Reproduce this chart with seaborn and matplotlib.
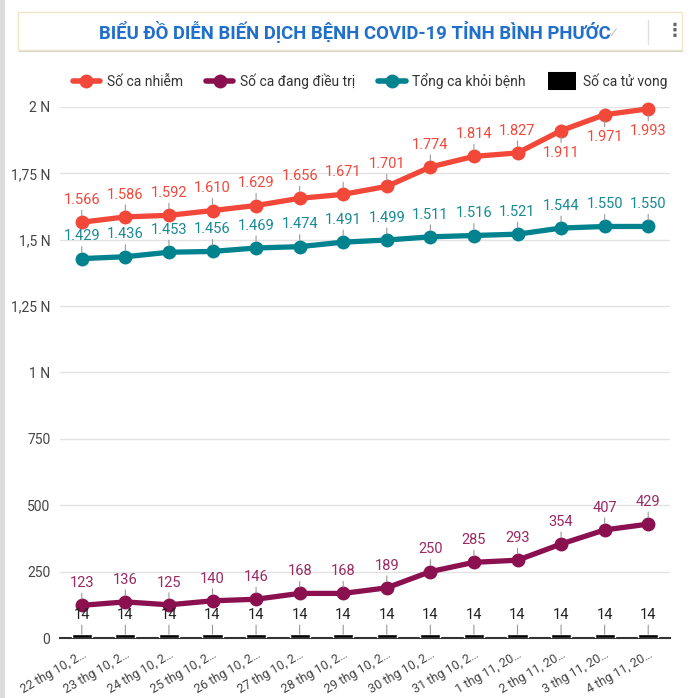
import numpy as np
import pandas as pd
import matplotlib
matplotlib.use("Agg")
import matplotlib.pyplot as plt
import seaborn as sns
from matplotlib.lines import Line2D
from matplotlib.patches import Rectangle

# ---------------- data ----------------
dates = ["22 thg 10, 2…", "23 thg 10, 2…", "24 thg 10, 2…", "25 thg 10, 2…",
         "26 thg 10, 2…", "27 thg 10, 2…", "28 thg 10, 2…", "29 thg 10, 2…",
         "30 thg 10, 2…", "31 thg 10, 2…", "1 thg 11, 20…", "2 thg 11, 20…",
         "3 thg 11, 20…", "4 thg 11, 20…"]
so_ca_nhiem = [1566, 1586, 1592, 1610, 1629, 1656, 1671, 1701, 1774, 1814, 1827, 1911, 1971, 1993]
dang_dieu_tri = [123, 136, 125, 140, 146, 168, 168, 189, 250, 285, 293, 354, 407, 429]
khoi_benh = [1429, 1436, 1453, 1456, 1469, 1474, 1491, 1499, 1511, 1516, 1521, 1544, 1550, 1550]
tu_vong = [14, 14, 14, 14, 14, 14, 14, 14, 14, 14, 14, 14, 14, 14]
series_names = ["Số ca nhiễm", "Số ca đang điều trị", "Tổng ca khỏi bệnh", "Số ca tử vong"]
y_ticks = [0, 250, 500, 750, 1000, 1250, 1500, 1750, 2000]
y_tick_labels = ["0", "250", "500", "750", "1 N", "1,25 N", "1,5 N", "1,75 N", "2 N"]
title = "BIỂU ĐỒ DIỄN BIẾN DỊCH BỆNH COVID-19 TỈNH BÌNH PHƯỚC"

RED = "#F1483A"
PURPLE = "#8A1050"
TEAL = "#00838F"
BLACK = "#000000"

sns.set_theme(style="white")
plt.rcParams["font.family"] = ["Roboto", "DejaVu Sans"]

W, H = 700, 698
fig = plt.figure(figsize=(W / 100, H / 100), dpi=100)
fig.patch.set_facecolor("white")

# left gray border strip
fig.patches.append(Rectangle((0, 0), 5 / W, 1, transform=fig.transFigure,
                             facecolor="#dcdcdc", edgecolor="none", zorder=0))
# title card with shadow
fig.patches.append(Rectangle((19 / W, 1 - 52 / H), 664 / W, 38 / H, transform=fig.transFigure,
                             facecolor="#d0d0d0", edgecolor="none", zorder=1))
fig.patches.append(Rectangle((18 / W, 1 - 50 / H), 664 / W, 38 / H, transform=fig.transFigure,
                             facecolor="white", edgecolor="#efe6c9", lw=1, zorder=2))
fig.text(355 / W, 1 - 32 / H, title, ha="center", va="center", fontsize=13.3,
         fontweight="bold", color="#1F6FCB", zorder=3)
fig.text(614 / W, 1 - 33 / H, "✓", ha="center", va="center", fontsize=10,
         color="#c8c8c8", family=["DejaVu Sans"], zorder=3)
fig.lines.append(Line2D([648 / W, 648 / W], [1 - 20 / H, 1 - 44 / H], transform=fig.transFigure,
                        color="#e0e0e0", lw=1, zorder=3))
fig.text(675 / W, 1 - 31 / H, "⋮", ha="center", va="center", fontsize=13,
         color="#666666", fontweight="bold", family=["DejaVu Sans"], zorder=3)

ax = fig.add_axes([60 / W, 1 - 638 / H, 610 / W, (638 - 107) / H])
ax.set_facecolor("white")

idx = np.arange(len(dates))
df = pd.DataFrame({"idx": idx, "nhiem": so_ca_nhiem, "dieu_tri": dang_dieu_tri,
                   "khoi": khoi_benh, "tu_vong": tu_vong})

sns.barplot(data=df, x="idx", y="tu_vong", native_scale=True, color=BLACK,
            saturation=1, width=0.46, ax=ax, zorder=3)

for col, c in [("khoi", TEAL), ("dieu_tri", PURPLE), ("nhiem", RED)]:
    sns.lineplot(data=df, x="idx", y=col, color=c, lw=3.8, marker="o", markersize=10,
                 markeredgewidth=0, ax=ax, clip_on=False, zorder=4)

def fmt(v):
    return f"{v:,}".replace(",", ".")

def label(x, y, text, color, dy, shrink):
    ax.annotate(text, xy=(x, y), xytext=(0, dy), textcoords="offset points",
                ha="center", va="bottom" if dy > 0 else "top", fontsize=10.5,
                color=color, zorder=5,
                arrowprops=dict(arrowstyle="-", color="#999999", lw=0.8,
                                shrinkA=0, shrinkB=shrink))

for i in idx:
    label(i, so_ca_nhiem[i], fmt(so_ca_nhiem[i]), RED, -11 if i >= 11 else 11, 4.5)
    label(i, khoi_benh[i], fmt(khoi_benh[i]), "#178A94", 11, 4.5)
    label(i, dang_dieu_tri[i], fmt(dang_dieu_tri[i]), "#9A2A62", 11, 4.5)
    label(i, tu_vong[i], fmt(tu_vong[i]), "#222222", 9, 0)

ax.set_xlim(-0.5, 13.5)
ax.set_ylim(0, 2000)
ax.set_yticks(y_ticks)
ax.set_yticklabels(y_tick_labels)
ax.set_xticks(idx)
ax.set_xticklabels(dates, rotation=30, ha="right", rotation_mode="anchor")
ax.tick_params(axis="y", length=0, pad=7, labelsize=10, labelcolor="#444444")
ax.tick_params(axis="x", length=0, pad=7, labelsize=9, labelcolor="#444444")
ax.set_xlabel("")
ax.set_ylabel("")
ax.grid(axis="y", color="#e2e2e2", lw=1)
ax.set_axisbelow(True)
for s in ["top", "right", "left"]:
    ax.spines[s].set_visible(False)
ax.spines["bottom"].set_color("#333333")
ax.spines["bottom"].set_linewidth(1.5)
ax.spines["bottom"].set_zorder(2)

handles = [
    Line2D([], [], color=RED, lw=4, marker="o", markersize=10, markeredgewidth=0),
    Line2D([], [], color=PURPLE, lw=4, marker="o", markersize=10, markeredgewidth=0),
    Line2D([], [], color=TEAL, lw=4, marker="o", markersize=10, markeredgewidth=0),
    Line2D([], [], color=BLACK, lw=13, solid_capstyle="butt"),
]
fig.legend(handles, series_names, loc="center", bbox_to_anchor=(370 / W, 1 - 81 / H),
           ncol=4, frameon=False, fontsize=10, handlelength=2.0, handletextpad=0.5,
           columnspacing=1.6, labelcolor="#333333")

fig.savefig("out.png", dpi=100, facecolor="white")
